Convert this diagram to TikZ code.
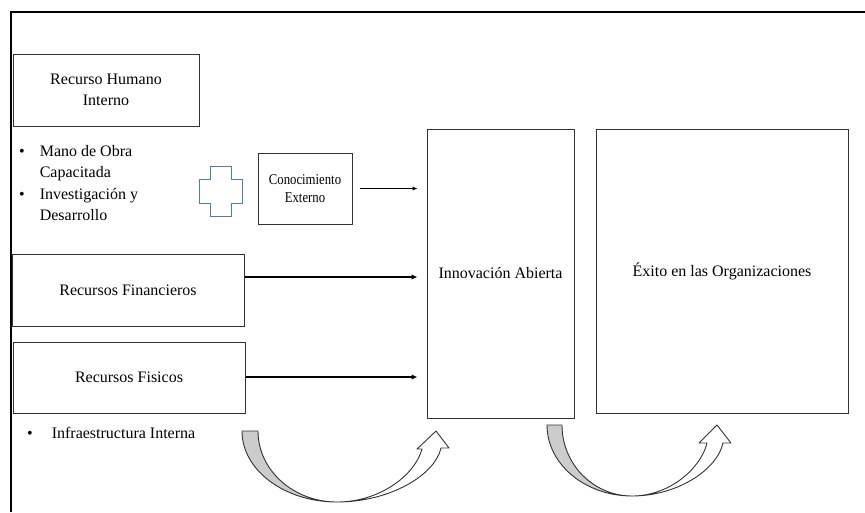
\documentclass[tikz,border=0pt]{standalone}
\usepackage{fontspec}
\setmainfont{Liberation Serif}
\newfontfamily\narrowserif[FakeStretch=0.85]{Liberation Serif}
\usetikzlibrary{arrows.meta}

\begin{document}
\begin{tikzpicture}[x=1pt,y=-1pt,
  caja/.style={draw=black!80,line width=1pt,inner sep=0pt,align=center,font=\fontsize{16}{21}\selectfont},
  flecha/.style={-{Latex[length=6pt,width=5.5pt]},line width=1.8pt},
  curva/.style={draw=black!80,line width=0.9pt,line join=round},
  lista/.style={anchor=north west,inner sep=0pt,font=\fontsize{16}{21.5}\selectfont}]
\useasboundingbox (0,0) rectangle (865,512);
\draw[line width=1.6pt] (11,512) -- (11,12) -- (865,12);

\node (humano) at (106,90) [caja,minimum width=186pt,minimum height=72pt] {Recurso Humano\\Interno};
\node (lista1) at (19,141) [lista] {\begin{tabular}{@{}l@{\hspace{15pt}}l@{}}•&Mano de Obra\\&Capacitada\\•&Investigación y\\&Desarrollo\end{tabular}};

% signo mas
\draw[color={rgb,255:red,84;green,120;blue,190},line width=1pt]
  (210,166) -- (231,166) -- (231,179) -- (242,179) -- (242,203) -- (231,203)
  -- (231,216) -- (210,216) -- (210,203) -- (199,203) -- (199,179) -- (210,179) -- cycle;

\node (conoc) at (305,188.5) [caja,minimum width=94pt,minimum height=71pt,font=\narrowserif\fontsize{15}{18}\selectfont] {Conocimiento\\Externo};

\node (finan) at (128,290) [caja,minimum width=232pt,minimum height=72pt] {Recursos Financieros};
\node (fisic) at (129,377.5) [caja,minimum width=232pt,minimum height=71pt] {Recursos Fisicos};
\node (lista2) at (27,423) [lista] {\begin{tabular}{@{}l@{\hspace{19pt}}l@{}}•&Infraestructura Interna\end{tabular}};

\node (innov) at (500.5,273.5) [caja,minimum width=147pt,minimum height=289pt] {Innovación Abierta};
\node (exito) at (722,271) [caja,minimum width=252pt,minimum height=284pt] {Éxito en las Organizaciones};

\draw[-{Latex[length=5pt,width=4.5pt]},line width=1pt,shorten <=7pt,shorten >=9pt] (conoc.east) -- (conoc.east -| innov.west);
\draw[flecha,shorten >=9pt] ([yshift=13pt]finan.east) -- ([yshift=13pt]finan.east -| innov.west);
\draw[flecha,shorten >=9pt] ([yshift=0.5pt]fisic.east) -- ([yshift=0.5pt]fisic.east -| innov.west);

% flechas curvas
\filldraw[curva,fill=black!20] (242,431) -- (258,431) .. controls (258,470.2) and (293.4,502) .. (337,502)
  .. controls (284.6,502) and (242,470.2) .. (242,431) -- cycle;
\filldraw[curva,fill=white] (337,502) .. controls (390,502) and (435,475) .. (441,448) -- (449,448) -- (436,431)
  -- (417,449) -- (422,449) .. controls (415,475) and (380,502) .. (337,502) -- cycle;

\filldraw[curva,fill=black!20] (547,425) -- (562,425) .. controls (562,464.2) and (593.4,496) .. (632,496)
  .. controls (585.1,496) and (547,464.2) .. (547,425) -- cycle;
\filldraw[curva,fill=white] (632,496) .. controls (677,496) and (717,470) .. (723,443) -- (731,443) -- (717,425)
  -- (699,443) -- (707,443) .. controls (701,468) and (670,496) .. (632,496) -- cycle;
\end{tikzpicture}
\end{document}
